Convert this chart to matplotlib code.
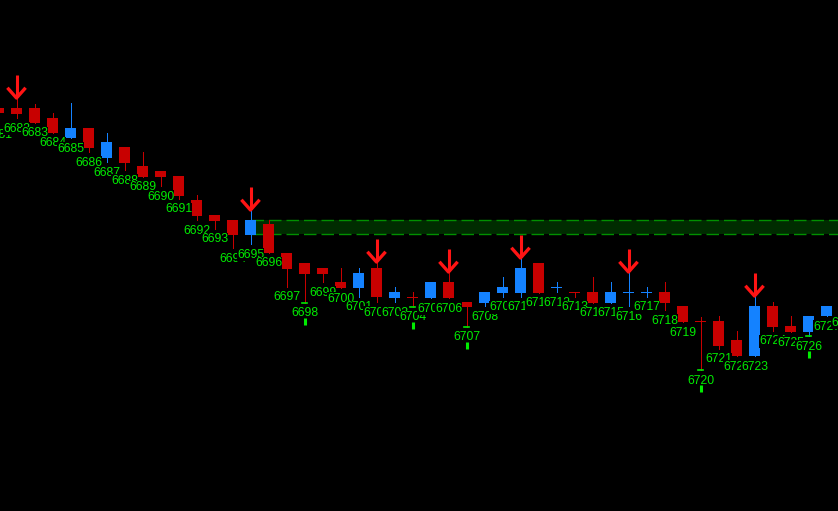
import numpy as np
import matplotlib
matplotlib.use("Agg")
import matplotlib.pyplot as plt

# bar numbers (also used as labels)
bars = list(range(6681, 6729))
# 'u' = bullish (blue), 'd' = bearish (red)
dirs = (["d"] * 4 + ["u", "d", "u"] + ["d"] * 7 + ["u"] + ["d"] * 5
        + ["u", "d", "u", "d", "u", "d", "d", "u", "u", "u", "d", "u", "d", "d", "u", "u", "u"]
        + ["d"] * 5 + ["u", "d", "d", "u", "u", "u"])

# price levels measured as screen rows (y axis is inverted)
body_top = [108, 108, 108, 118, 128, 128, 142, 147, 166, 171, 176, 200, 215, 220, 220, 224,
            253, 263, 268, 282, 273, 268, 292, 297, 282, 282, 302, 292, 287, 268, 263, 287,
            292, 292, 292, 292, 292, 292, 306, 321, 321, 340, 306, 306, 326, 316, 306, 300]
body_bot = [113, 114, 123, 133, 138, 148, 158, 163, 177, 177, 196, 216, 221, 235, 235, 253,
            269, 274, 274, 288, 288, 297, 298, 297, 298, 298, 307, 303, 293, 293, 293, 287,
            292, 303, 303, 292, 292, 303, 322, 321, 346, 356, 356, 327, 332, 332, 316, 310]
highs = [104, 99, 104, 113, 103, 128, 133, 147, 152, 171, 176, 195, 215, 220, 211, 220,
         253, 263, 268, 268, 268, 263, 287, 292, 282, 273, 302, 292, 277, 259, 263, 282,
         292, 277, 282, 273, 287, 282, 306, 317, 316, 331, 297, 302, 316, 316, 306, 300]
lows = [124, 118, 123, 133, 138, 152, 162, 170, 177, 186, 199, 220, 229, 248, 244, 253,
        287, 303, 282, 288, 297, 302, 302, 307, 298, 298, 327, 306, 297, 297, 293, 292,
        297, 303, 303, 306, 297, 310, 322, 370, 349, 356, 356, 331, 332, 336, 316, 312]

sell_bars = [6682, 6695, 6702, 6706, 6710, 6716, 6723]
buy_bars = [6698, 6704, 6707, 6720, 6726]

zone_start = 6695
zone_top, zone_bottom = 220, 234

RED = "#c80000"
BLUE = "#1482ff"
ARROW = "#ff1414"
LIME = "#00ec00"

fig = plt.figure(figsize=(8.38, 5.11), dpi=100, facecolor="black")
ax = fig.add_axes([0, 0, 1, 1])
ax.set_facecolor("black")
ax.set_axis_off()

px = 1 / 18.0  # one pixel in bar units
ax.set_xlim(6682 - 16.5 * px, 6682 + (838 - 16.5) * px)
ax.set_ylim(511, 0)

x = np.array(bars)
colors = [BLUE if d == "u" else RED for d in dirs]

# support / resistance zone
ax.fill_between([zone_start, x[-1] + 2], zone_top, zone_bottom, color="#002c00", zorder=0, lw=0)
for yy in (zone_top, zone_bottom):
    ax.plot([zone_start, x[-1] + 2], [yy, yy], color="#009000", lw=1.0, dashes=(9, 3.6), zorder=0.5)

# candles
ax.vlines(x, highs, lows, colors=colors, lw=0.72, zorder=2, antialiased=False)
heights = np.maximum(np.array(body_bot) - np.array(body_top), 1)
ax.bar(x, heights, bottom=body_top, width=11 * px, color=colors, lw=0, zorder=3)

# sell arrows above highs
for b in sell_bars:
    i = bars.index(b)
    tip = highs[i] - 1
    ax.plot([b, b], [tip - 23, tip - 1], color=ARROW, lw=2.2, zorder=6, solid_capstyle="butt")
    ax.plot([b - 8 * px, b, b + 8 * px], [tip - 9, tip, tip - 9], color=ARROW, lw=2.4, zorder=6)

# bar number labels
for i, b in enumerate(bars):
    ax.text(b, lows[i] + 13.5, str(b), color=LIME, fontsize=8.8, family="Liberation Sans",
            ha="center", va="baseline", zorder=5,
            bbox=dict(facecolor="black", edgecolor="none", pad=0.3))

# buy markers below lows
for b in buy_bars:
    i = bars.index(b)
    ax.plot([b - 2.5 * px, b + 2.5 * px], [lows[i] + 0.5, lows[i] + 0.5], color=LIME, lw=1.2, zorder=6)
    ax.plot([b, b], [lows[i] + 15, lows[i] + 22], color=LIME, lw=2.2, zorder=6, solid_capstyle="butt")

fig.savefig("out.png", dpi=100, facecolor="black")
